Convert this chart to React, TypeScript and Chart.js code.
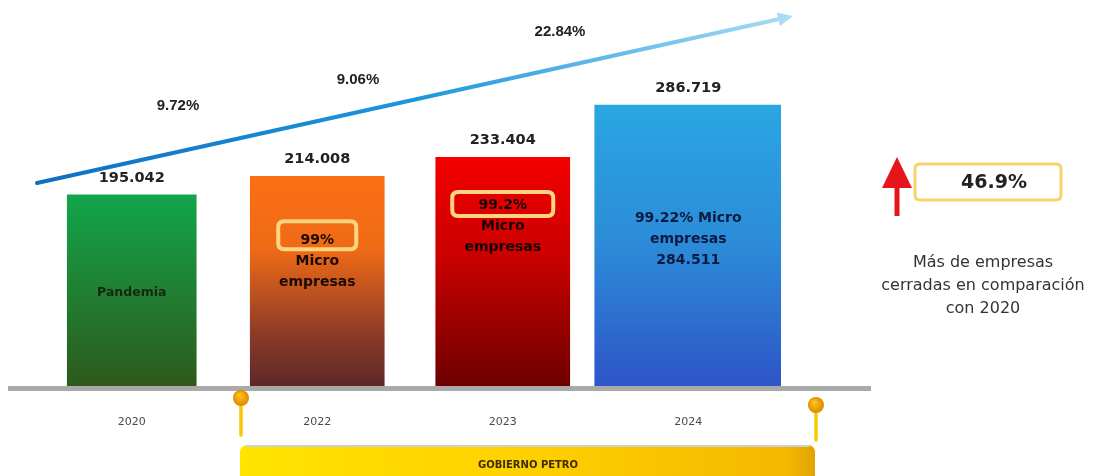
import { useEffect, useRef } from 'react';
import { Chart, registerables } from 'chart.js';

Chart.register(...registerables);

// ---------- data ----------
const YEARS = ['2020', '2022', '2023', '2024'];
const EMPRESAS = [195042, 214008, 233404, 286719];
const GROWTH_LABELS = ['9.72%', '9.06%', '22.84%'];
const INNER_LINES = [
  ['Pandemia'],
  ['99%', 'Micro', 'empresas'],
  ['99.2%', 'Micro', 'empresas'],
  ['99.22% Micro', 'empresas', '284.511'],
];
const TOTAL_GROWTH = '46.9%';
const NOTE_LINES = ['Más de empresas', 'cerradas en comparación', 'con 2020'];
const GOV_LABEL = 'GOBIERNO PETRO';
const Y_MAX = 300000;

// ---------- styles / layout ----------
const BAR_WIDTHS = [129, 134, 134, 187];
const BAR_GRADIENTS: [number, string][][] = [
  [[0, '#12a64b'], [1, '#2e5a1c']],
  [[0, '#fb6f14'], [0.35, '#ef6a17'], [0.75, '#8c3b26'], [1, '#5e2828']],
  [[0, '#f40000'], [0.45, '#c80000'], [1, '#6e0000']],
  [[0, '#2aa6e2'], [0.5, '#2c8bd8'], [1, '#2e55c7']],
];
const INNER_COLORS = ['#15280e', '#1c0a00', '#1a0000', '#0b1a40'];
const INNER_FONTS = [
  'bold 12.5px "DejaVu Sans"',
  'bold 14px "DejaVu Sans"',
  'bold 14px "DejaVu Sans"',
  'bold 14px "DejaVu Sans"',
];
const INNER_CENTER = [0.514, 0.405, 0.3, 0.478];
const INNER_LINE_H = 21;
const HIGHLIGHT: ({ w: number; h: number; dy: number } | null)[] = [
  null,
  { w: 78, h: 28, dy: -5 },
  { w: 101, h: 24, dy: -1 },
  null,
];
const GROWTH_POS = [
  [178, 106],
  [358, 80],
  [560, 32],
];
const W = 1110;
const H = 476;

const fmt = (v: number) => String(v).replace(/\B(?=(\d{3})+(?!\d))/g, '.');

function rr(ctx: CanvasRenderingContext2D, x: number, y: number, w: number, h: number, r: number) {
  ctx.beginPath();
  ctx.moveTo(x + r, y);
  ctx.lineTo(x + w - r, y);
  ctx.quadraticCurveTo(x + w, y, x + w, y + r);
  ctx.lineTo(x + w, y + h - r);
  ctx.quadraticCurveTo(x + w, y + h, x + w - r, y + h);
  ctx.lineTo(x + r, y + h);
  ctx.quadraticCurveTo(x, y + h, x, y + h - r);
  ctx.lineTo(x, y + r);
  ctx.quadraticCurveTo(x, y, x + r, y);
  ctx.closePath();
}

const decorPlugin = {
  id: 'decor',
  afterDatasetsDraw(chart: any) {
    const ctx: CanvasRenderingContext2D = chart.ctx;
    const yScale = chart.scales.y;
    const base = yScale.getPixelForValue(0);
    ctx.save();
    // baseline
    ctx.fillStyle = '#a9a9a9';
    ctx.fillRect(8, base, 863, 5);

    ctx.textAlign = 'center';
    ctx.textBaseline = 'middle';
    YEARS.forEach((_, i) => {
      const el = chart.getDatasetMeta(i).data[i];
      if (!el) return;
      const x = el.x;
      const top = el.y;
      const h = el.base - el.y;
      // value above bar
      ctx.font = 'bold 14.5px "DejaVu Sans"';
      ctx.fillStyle = '#222';
      ctx.fillText(fmt(EMPRESAS[i]), x, top - 17);
      // inner text
      const lines = INNER_LINES[i];
      const cy = top + h * INNER_CENTER[i];
      const firstY = cy - ((lines.length - 1) * INNER_LINE_H) / 2;
      const hb = HIGHLIGHT[i];
      if (hb) {
        ctx.strokeStyle = '#fbd67e';
        ctx.lineWidth = 4;
        rr(ctx, x - hb.w / 2, firstY + hb.dy - hb.h / 2, hb.w, hb.h, 6);
        ctx.stroke();
      }
      ctx.font = INNER_FONTS[i];
      ctx.fillStyle = INNER_COLORS[i];
      lines.forEach((t, k) => ctx.fillText(t, x, firstY + k * INNER_LINE_H));
    });
    ctx.restore();
  },
  afterDraw(chart: any) {
    const ctx: CanvasRenderingContext2D = chart.ctx;
    ctx.save();
    // trend arrow
    const x0 = 37, y0 = 183, x1 = 793, y1 = 16;
    const g = ctx.createLinearGradient(x0, y0, x1, y1);
    g.addColorStop(0, '#0f6fc2');
    g.addColorStop(0.5, '#1c96dc');
    g.addColorStop(1, '#a8dcf4');
    const ang = Math.atan2(y1 - y0, x1 - x0);
    const hl = 15, hw = 7;
    const bx = x1 - hl * Math.cos(ang), by = y1 - hl * Math.sin(ang);
    ctx.strokeStyle = g;
    ctx.lineWidth = 4;
    ctx.lineCap = 'round';
    ctx.beginPath();
    ctx.moveTo(x0, y0);
    ctx.lineTo(bx, by);
    ctx.stroke();
    ctx.fillStyle = '#a8dcf4';
    ctx.beginPath();
    ctx.moveTo(x1, y1);
    ctx.lineTo(bx + hw * Math.sin(ang), by - hw * Math.cos(ang));
    ctx.lineTo(bx - hw * Math.sin(ang), by + hw * Math.cos(ang));
    ctx.closePath();
    ctx.fill();

    // growth labels
    ctx.textAlign = 'center';
    ctx.textBaseline = 'middle';
    ctx.font = 'bold 15px "Liberation Sans"';
    ctx.fillStyle = '#222';
    GROWTH_LABELS.forEach((t, i) => ctx.fillText(t, GROWTH_POS[i][0], GROWTH_POS[i][1]));

    // right panel: red arrow
    ctx.fillStyle = '#e8141b';
    ctx.fillRect(894.5, 184, 5, 32);
    ctx.beginPath();
    ctx.moveTo(897, 157);
    ctx.lineTo(912, 188);
    ctx.lineTo(882, 188);
    ctx.closePath();
    ctx.fill();
    // box
    rr(ctx, 915, 164, 146, 36, 5);
    ctx.fillStyle = '#fff';
    ctx.fill();
    ctx.strokeStyle = '#f6d36b';
    ctx.lineWidth = 3;
    ctx.stroke();
    ctx.fillStyle = '#222';
    ctx.font = 'bold 19px "DejaVu Sans"';
    ctx.fillText(TOTAL_GROWTH, 994, 183);
    // note
    ctx.font = '16px "DejaVu Sans"';
    ctx.fillStyle = '#333';
    NOTE_LINES.forEach((t, i) => ctx.fillText(t, 983, 263 + i * 23));

    // government band
    const gb = ctx.createLinearGradient(240, 0, 815, 0);
    gb.addColorStop(0, '#ffe400');
    gb.addColorStop(0.5, '#ffd000');
    gb.addColorStop(0.95, '#f5b800');
    gb.addColorStop(1, '#e0a400');
    rr(ctx, 240, 445, 575, 50, 8);
    ctx.fillStyle = gb;
    ctx.fill();
    ctx.fillStyle = '#cfcfcf';
    ctx.fillRect(246, 445, 563, 2);
    ctx.fillStyle = '#3b2c00';
    ctx.font = 'bold 10px "DejaVu Sans"';
    ctx.fillText(GOV_LABEL, 528, 465);

    // pins
    const pins = [
      [241, 398, 435],
      [816, 405, 440],
    ];
    pins.forEach(([px, py, pb]) => {
      ctx.strokeStyle = '#f8c800';
      ctx.lineWidth = 3.5;
      ctx.beginPath();
      ctx.moveTo(px, py);
      ctx.lineTo(px, pb);
      ctx.stroke();
      const rg = ctx.createRadialGradient(px - 2, py - 3, 1, px, py, 8);
      rg.addColorStop(0, '#ffc21a');
      rg.addColorStop(1, '#dc8a00');
      ctx.fillStyle = rg;
      ctx.beginPath();
      ctx.arc(px, py, 8, 0, Math.PI * 2);
      ctx.fill();
    });
    ctx.restore();
  },
};

export default function App() {
  const ref = useRef<HTMLCanvasElement>(null);
  useEffect(() => {
    if (!ref.current) return;
    const datasets = YEARS.map((_, i) => ({
      label: YEARS[i],
      data: EMPRESAS.map((v, j) => (j === i ? v : null)),
      barThickness: BAR_WIDTHS[i],
      grouped: false,
      borderWidth: 0,
      backgroundColor: (c: any) => {
        const chart = c.chart;
        if (!chart.chartArea || c.raw == null) return BAR_GRADIENTS[i][0][1];
        const y = chart.scales.y;
        const top = y.getPixelForValue(c.raw);
        const bottom = y.getPixelForValue(0);
        const gr = chart.ctx.createLinearGradient(0, top, 0, bottom);
        BAR_GRADIENTS[i].forEach(([o, col]) => gr.addColorStop(o, col));
        return gr;
      },
    }));
    const chart = new Chart(ref.current, {
      type: 'bar',
      data: { labels: YEARS, datasets },
      options: {
        responsive: false,
        animation: false,
        layout: { padding: { left: 39, right: 329, top: 92, bottom: 30 } },
        plugins: { legend: { display: false }, tooltip: { enabled: false } },
        scales: {
          x: {
            grid: { display: false },
            border: { display: false },
            ticks: {
              color: '#4a4a4a',
              font: { family: 'DejaVu Sans', size: 11 },
              padding: 22,
              maxRotation: 0,
            },
            afterFit: (s: any) => {
              s.height = 60;
            },
          },
          y: { display: false, min: 0, max: Y_MAX },
        },
      },
      plugins: [decorPlugin],
    } as any);
    return () => chart.destroy();
  }, []);
  return (
    <div style={{ position: 'fixed', left: 0, top: 0, width: W, height: H, background: '#fff' }}>
      <canvas ref={ref} width={W} height={H} style={{ width: W, height: H, display: 'block' }} />
    </div>
  );
}
